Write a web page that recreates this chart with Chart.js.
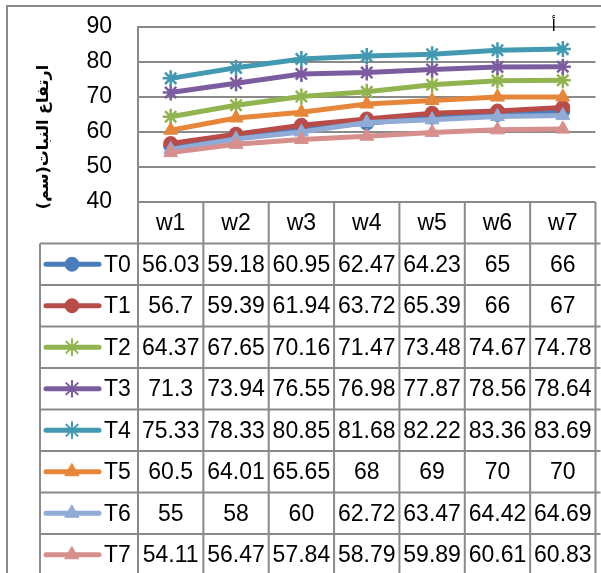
<!DOCTYPE html>
<html>
<head>
<meta charset="utf-8">
<script src="https://cdn.jsdelivr.net/npm/chart.js@4/dist/chart.umd.min.js"></script>
<style>
  html, body { margin: 0; padding: 0; overflow: hidden; background: #fff; }
  canvas { display: block; }
</style>
</head>
<body>
<canvas id="chartjs-canvas" width="606" height="573"></canvas>
<script>
// weeks and treatments
const weeks = ["w1", "w2", "w3", "w4", "w5", "w6", "w7"];
const seriesNames = ["T0", "T1", "T2", "T3", "T4", "T5", "T6", "T7"];

const t0 = [56.03, 59.18, 60.95, 62.47, 64.23, 65, 66];
const t1 = [56.7, 59.39, 61.94, 63.72, 65.39, 66, 67];
const t2 = [64.37, 67.65, 70.16, 71.47, 73.48, 74.67, 74.78];
const t3 = [71.3, 73.94, 76.55, 76.98, 77.87, 78.56, 78.64];
const t4 = [75.33, 78.33, 80.85, 81.68, 82.22, 83.36, 83.69];
const t5 = [60.5, 64.01, 65.65, 68, 69, 70, 70];
const t6 = [55, 58, 60, 62.72, 63.47, 64.42, 64.69];
const t7 = [54.11, 56.47, 57.84, 58.79, 59.89, 60.61, 60.83];
const seriesValues = [t0, t1, t2, t3, t4, t5, t6, t7];

const yTicks = [40, 50, 60, 70, 80, 90];
const yTitle = "ارتفاع النبات(سم)";
const peakLabel = "أ";

const colors = ["#4A7EBB", "#B84C49", "#92B450", "#7B5D9F", "#4399B1", "#E6863B", "#8FABD6", "#D68F8D"];
const markers = ["circle", "circle", "star", "star", "star", "triangle", "triangle", "triangle"];

const FONT = '"Liberation Sans", Arial, sans-serif';
const GRID = "#8a8a8a";
const ROW_H = 41.5;

const datasets = seriesNames.map((name, i) => ({
    label: name,
    data: seriesValues[i],
    borderColor: colors[i],
    backgroundColor: colors[i],
    pointBackgroundColor: colors[i],
    pointBorderColor: colors[i],
    pointStyle: markers[i],
    pointRadius: markers[i] === "circle" ? 7 : 8,
    pointBorderWidth: markers[i] === "star" ? 2.5 : 1,
    borderWidth: 5,
    tension: 0,
    fill: false,
    order: seriesNames.length - i
}));

const tablePlugin = {
    id: 'dataTable',
    beforeDraw(chart) {
        const ctx = chart.ctx;
        ctx.save();
        ctx.fillStyle = "#fff";
        ctx.fillRect(0, 0, chart.width, chart.height);
        ctx.strokeStyle = "#8c8c8c";
        ctx.lineWidth = 2;
        ctx.strokeRect(7, 6, chart.width + 20, chart.height + 20);
        ctx.restore();
    },
    afterDraw(chart) {
        const ctx = chart.ctx;
        const area = chart.chartArea;
        const xs = chart.scales.x;
        const colW = (area.right - area.left) / weeks.length;
        const top = area.bottom;
        const legendLeft = 40;
        const bottomY = top + ROW_H * (seriesNames.length + 1);

        ctx.save();
        ctx.strokeStyle = GRID;
        ctx.lineWidth = 2;
        // horizontal lines
        for (let r = 1; r <= seriesNames.length + 1; r++) {
            const y = top + r * ROW_H;
            ctx.beginPath();
            ctx.moveTo(legendLeft, y);
            ctx.lineTo(area.right + 5, y);
            ctx.stroke();
        }
        // vertical lines
        ctx.beginPath();
        ctx.moveTo(legendLeft, top + ROW_H);
        ctx.lineTo(legendLeft, bottomY);
        ctx.stroke();
        for (let c = 0; c <= weeks.length; c++) {
            const x = area.left + c * colW;
            ctx.beginPath();
            ctx.moveTo(x, top);
            ctx.lineTo(x, bottomY);
            ctx.stroke();
        }

        // header
        ctx.fillStyle = "#000";
        ctx.font = "23px " + FONT;
        ctx.textAlign = "center";
        ctx.textBaseline = "middle";
        weeks.forEach((w, i) => {
            ctx.fillText(w, xs.getPixelForValue(i), top + ROW_H / 2 + 1);
        });

        // rows
        seriesNames.forEach((name, r) => {
            const cy = top + ROW_H * (r + 1) + ROW_H / 2;
            // legend key
            ctx.strokeStyle = colors[r];
            ctx.lineWidth = 5;
            ctx.lineCap = "round";
            ctx.beginPath();
            ctx.moveTo(46, cy);
            ctx.lineTo(99, cy);
            ctx.stroke();
            ctx.fillStyle = colors[r];
            ctx.lineWidth = markers[r] === "star" ? 2 : 1;
            Chart.helpers.drawPoint(ctx, {
                pointStyle: markers[r],
                radius: markers[r] === "circle" ? 7 : 8,
                rotation: 0,
                borderWidth: ctx.lineWidth
            }, 72, cy);
            ctx.fillStyle = "#000";
            ctx.textAlign = "left";
            ctx.fillText(name, 104, cy + 1);
            ctx.textAlign = "center";
            seriesValues[r].forEach((v, i) => {
                ctx.fillText(String(v), xs.getPixelForValue(i), cy + 1);
            });
        });

        // y axis title
        ctx.save();
        ctx.translate(44, 137);
        ctx.rotate(-Math.PI / 2);
        ctx.direction = "rtl";
        ctx.font = 'bold 16px "DejaVu Sans", sans-serif';
        ctx.textAlign = "center";
        ctx.textBaseline = "middle";
        ctx.fillText(yTitle, 0, 0);
        ctx.restore();

        // letter above top series end
        const last = chart.getDatasetMeta(4).data[weeks.length - 1];
        ctx.font = '16px "DejaVu Sans", sans-serif';
        ctx.textAlign = "center";
        ctx.textBaseline = "middle";
        ctx.fillText(peakLabel, last.x - 9, last.y - 22);
        ctx.restore();
    }
};

new Chart(document.getElementById('chartjs-canvas').getContext('2d'), {
    type: 'line',
    data: { labels: weeks, datasets: datasets },
    options: {
        responsive: false,
        animation: false,
        layout: { padding: { left: 0, top: 27, right: 2.5, bottom: 371 } },
        plugins: {
            legend: { display: false },
            tooltip: { enabled: false },
            title: { display: false }
        },
        scales: {
            x: { display: false, offset: true },
            y: {
                min: yTicks[0],
                max: yTicks[yTicks.length - 1],
                afterBuildTicks: (s) => { s.ticks = yTicks.map(v => ({ value: v })); },
                afterFit: (s) => { s.width = 138; s.paddingTop = 0; s.paddingBottom = 0; },
                border: { display: true, color: GRID, width: 2 },
                grid: { color: GRID, lineWidth: 2, drawTicks: false },
                ticks: { color: "#000", padding: 26, font: { size: 23, family: FONT } }
            }
        }
    },
    plugins: [tablePlugin]
});
</script>
</body>
</html>
